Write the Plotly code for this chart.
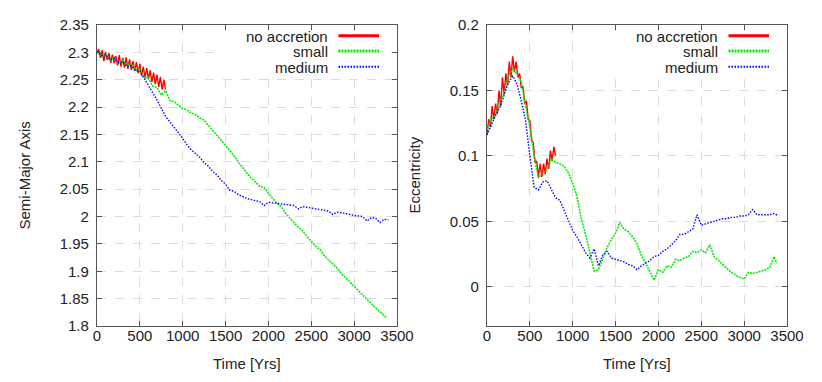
import plotly.graph_objects as go

# ---- data ----
# left panel: semi-major axis
t_red_a = [0, 20, 40, 60, 80, 100, 120, 140, 160, 180, 200, 220, 240, 260, 280, 300, 320, 340, 360, 380,
           400, 420, 440, 460, 480, 500, 520, 540, 560, 580, 600, 620, 640, 660, 680, 700, 720, 740, 760, 780, 800]
a_red = [2.298, 2.306, 2.290, 2.304, 2.284, 2.301, 2.286, 2.299, 2.281, 2.296, 2.280, 2.293, 2.276, 2.295,
         2.274, 2.290, 2.272, 2.291, 2.270, 2.287, 2.268, 2.284, 2.266, 2.282, 2.262, 2.279, 2.257, 2.274,
         2.254, 2.271, 2.251, 2.267, 2.246, 2.263, 2.242, 2.259, 2.237, 2.255, 2.232, 2.250, 2.232]

t_green_a = [0, 50, 100, 150, 200, 250, 300, 350, 400, 450, 500, 550, 600, 650, 700, 750, 800, 850, 900, 950,
             1000, 1050, 1100, 1150, 1200, 1250, 1300, 1350, 1400, 1450, 1500, 1550, 1600, 1650, 1700, 1750,
             1800, 1850, 1900, 1950, 2000, 2050, 2100, 2150, 2200, 2250, 2300, 2350, 2400, 2450, 2500, 2550,
             2600, 2650, 2700, 2750, 2800, 2850, 2900, 2950, 3000, 3050, 3100, 3150, 3200, 3250, 3300, 3350, 3380]
a_green = [2.301, 2.292, 2.297, 2.286, 2.291, 2.280, 2.286, 2.275, 2.280, 2.268, 2.270, 2.254, 2.253, 2.238,
           2.236, 2.222, 2.230, 2.212, 2.210, 2.203, 2.197, 2.195, 2.189, 2.186, 2.180, 2.176, 2.166, 2.157,
           2.149, 2.140, 2.131, 2.120, 2.111, 2.099, 2.089, 2.079, 2.070, 2.063, 2.055, 2.053, 2.042, 2.033,
           2.024, 2.018, 2.006, 1.997, 1.988, 1.980, 1.974, 1.963, 1.955, 1.946, 1.940, 1.929, 1.921, 1.913,
           1.906, 1.896, 1.888, 1.880, 1.873, 1.864, 1.856, 1.848, 1.841, 1.833, 1.826, 1.819, 1.815]

t_blue_a = [0, 50, 100, 150, 200, 250, 300, 350, 400, 450, 500, 550, 600, 650, 700, 750, 800, 850, 900, 950,
            1000, 1050, 1100, 1150, 1200, 1250, 1300, 1350, 1400, 1450, 1500, 1550, 1600, 1650, 1700, 1750,
            1800, 1850, 1900, 1950, 2000, 2050, 2100, 2150, 2200, 2250, 2300, 2350, 2400, 2450, 2500, 2550,
            2600, 2650, 2700, 2750, 2800, 2850, 2900, 2950, 3000, 3050, 3100, 3150, 3200, 3250, 3300, 3350, 3400]
a_blue = [2.302, 2.294, 2.296, 2.287, 2.289, 2.281, 2.283, 2.274, 2.276, 2.266, 2.266, 2.252, 2.240, 2.226,
          2.213, 2.198, 2.183, 2.173, 2.164, 2.153, 2.143, 2.131, 2.122, 2.115, 2.108, 2.098, 2.092, 2.082,
          2.076, 2.066, 2.059, 2.048, 2.046, 2.040, 2.036, 2.033, 2.031, 2.029, 2.027, 2.020, 2.026, 2.025,
          2.024, 2.024, 2.023, 2.022, 2.020, 2.014, 2.018, 2.017, 2.015, 2.014, 2.013, 2.012, 2.010, 2.004,
          2.008, 2.007, 2.005, 2.004, 2.002, 2.001, 2.000, 1.992, 1.998, 1.997, 1.989, 1.995, 1.994]

# right panel: eccentricity
t_red_e = t_red_a
e_red = [0.116, 0.128, 0.122, 0.138, 0.128, 0.140, 0.132, 0.150, 0.138, 0.160, 0.147, 0.163, 0.154, 0.172,
         0.160, 0.176, 0.164, 0.172, 0.160, 0.163, 0.152, 0.153, 0.140, 0.142, 0.128, 0.127, 0.112, 0.110,
         0.095, 0.096, 0.084, 0.094, 0.084, 0.094, 0.086, 0.098, 0.090, 0.104, 0.096, 0.107, 0.100]

t_green_e = t_green_a
e_green = [0.120, 0.128, 0.131, 0.142, 0.148, 0.160, 0.167, 0.162, 0.157, 0.138, 0.122, 0.100, 0.083, 0.088,
           0.089, 0.098, 0.095, 0.094, 0.092, 0.087, 0.079, 0.069, 0.052, 0.040, 0.026, 0.012, 0.013, 0.022,
           0.030, 0.036, 0.041, 0.049, 0.044, 0.042, 0.038, 0.033, 0.024, 0.018, 0.012, 0.005, 0.013, 0.011,
           0.016, 0.015, 0.021, 0.020, 0.022, 0.023, 0.027, 0.026, 0.028, 0.026, 0.032, 0.023, 0.020, 0.017,
           0.014, 0.011, 0.009, 0.007, 0.006, 0.011, 0.010, 0.011, 0.012, 0.013, 0.015, 0.023, 0.018]

t_blue_e = t_blue_a
e_blue = [0.116, 0.124, 0.131, 0.137, 0.146, 0.156, 0.161, 0.155, 0.142, 0.127, 0.100, 0.076, 0.074, 0.080,
          0.081, 0.075, 0.068, 0.066, 0.058, 0.050, 0.043, 0.038, 0.032, 0.026, 0.022, 0.029, 0.016, 0.024,
          0.027, 0.022, 0.021, 0.020, 0.019, 0.017, 0.016, 0.013, 0.016, 0.018, 0.020, 0.023, 0.024, 0.027,
          0.029, 0.032, 0.035, 0.040, 0.040, 0.042, 0.044, 0.055, 0.047, 0.048, 0.049, 0.050, 0.051, 0.052,
          0.052, 0.053, 0.053, 0.054, 0.054, 0.055, 0.059, 0.055, 0.055, 0.055, 0.055, 0.056, 0.054]

series_names = ["no accretion", "small", "medium"]
series_colors = ["#ff0000", "#00ee00", "#0000ff"]

x_ticks = [0, 500, 1000, 1500, 2000, 2500, 3000, 3500]
a_ticks = [1.8, 1.85, 1.9, 1.95, 2.0, 2.05, 2.1, 2.15, 2.2, 2.25, 2.3, 2.35]
a_tick_text = ["1.8", "1.85", "1.9", "1.95", "2", "2.05", "2.1", "2.15", "2.2", "2.25", "2.3", "2.35"]
e_ticks = [0, 0.05, 0.1, 0.15, 0.2]
e_tick_text = ["0", "0.05", "0.1", "0.15", "0.2"]

FONT = "Liberation Sans, Arial, sans-serif"
# the page puts the figure 8px in from the top-left corner
OFF = 8
W, H = 806, 366

def px_x(s):
    return (s - OFF) / W

def px_y(s):
    return 1 - (s - OFF) / H

fig = go.Figure()

line_styles = [dict(width=1.4, dash="solid"), dict(width=1.6, dash="2px,1px"), dict(width=1.4, dash="1.5px,1.5px")]
left = [(t_red_a, a_red), (t_green_a, a_green), (t_blue_a, a_blue)]
right = [(t_red_e, e_red), (t_green_e, e_green), (t_blue_e, e_blue)]

for i, (tx, ty) in enumerate(left):
    fig.add_trace(go.Scatter(x=tx, y=ty, mode="lines", name=series_names[i], showlegend=False,
                             line=dict(color=series_colors[i], **line_styles[i]), xaxis="x", yaxis="y"))
for i, (tx, ty) in enumerate(right):
    fig.add_trace(go.Scatter(x=tx, y=ty, mode="lines", name=series_names[i], showlegend=False,
                             line=dict(color=series_colors[i], **line_styles[i]), xaxis="x2", yaxis="y2"))

# panel geometry in screen pixels
top_px, bot_px = 25, 326
left_px = [97, 397]
right_px = [487, 787]

ydom = [px_y(bot_px), px_y(top_px)]

axis_common = dict(
    showline=True, linecolor="#555555", linewidth=1.2, mirror="ticks",
    ticks="inside", ticklen=5, tickcolor="#555555", tickwidth=1, automargin=False,
    showgrid=True, gridcolor="#dcdcdc", griddash="dash", gridwidth=1,
    zeroline=False, tickfont=dict(family=FONT, size=15, color="#222222"),
)

fig.update_layout(
    width=W, height=H,
    margin=dict(l=0, r=0, t=0, b=0),
    paper_bgcolor="white", plot_bgcolor="white",
    font=dict(family=FONT, size=15, color="#222222"),
    showlegend=False,
    xaxis=dict(domain=[px_x(left_px[0]), px_x(left_px[1])], range=[0, 3500], tickvals=x_ticks,
               anchor="y", ticklabelstandoff=-4, **axis_common),
    yaxis=dict(domain=ydom, range=[1.8, 2.35], tickvals=a_ticks, ticktext=a_tick_text, anchor="x",
               ticklabelstandoff=4, **axis_common),
    xaxis2=dict(domain=[px_x(right_px[0]), px_x(right_px[1])], range=[0, 3500], tickvals=x_ticks,
                anchor="y2", ticklabelstandoff=-4, **axis_common),
    yaxis2=dict(domain=ydom, range=[-0.03, 0.2], tickvals=e_ticks, ticktext=e_tick_text, anchor="x2",
                ticklabelstandoff=4, **axis_common),
)

# axis titles
title_font = dict(family=FONT, size=15, color="#222222")
ymid = px_y((top_px + bot_px) / 2)
fig.add_annotation(text="Semi-Major Axis", x=px_x(24), y=ymid, xref="paper", yref="paper",
                   xanchor="center", yanchor="middle", textangle=-90, showarrow=False, font=title_font)
fig.add_annotation(text="Eccentricity", x=px_x(414), y=ymid, xref="paper", yref="paper",
                   xanchor="center", yanchor="middle", textangle=-90, showarrow=False, font=title_font)
for px in (left_px, right_px):
    fig.add_annotation(text="Time [Yrs]", x=px_x((px[0] + px[1]) / 2), y=px_y(363),
                       xref="paper", yref="paper", xanchor="center", yanchor="middle",
                       showarrow=False, font=title_font)

# gnuplot-style key in the top right of each panel
key_rows = [35.7, 51.0, 66.7]
key_dash = ["solid", "2px,1px", "1.5px,1.5px"]
key_width = [3, 3, 2]
for xa, ya, x0 in (("x", "y", 0.40), ("x2", "y2", 0.41)):
    fig.add_shape(type="rect", xref=xa + " domain", yref=ya + " domain",
                  x0=x0, x1=0.98, y0=0.835, y1=0.98, fillcolor="white",
                  line=dict(width=0), layer="above")
    for i, row in enumerate(key_rows):
        yd = (bot_px - row) / (bot_px - top_px)
        fig.add_annotation(text=series_names[i], xref=xa + " domain", yref=ya + " domain",
                           x=0.772, y=yd, xanchor="right", yanchor="middle", showarrow=False,
                           height=14, borderpad=0, font=title_font)
        fig.add_shape(type="line", xref=xa + " domain", yref=ya + " domain",
                      x0=0.805, x1=0.94, y0=yd, y1=yd, layer="above",
                      line=dict(color=series_colors[i], width=key_width[i], dash=key_dash[i]))

fig.write_html("out.html")
